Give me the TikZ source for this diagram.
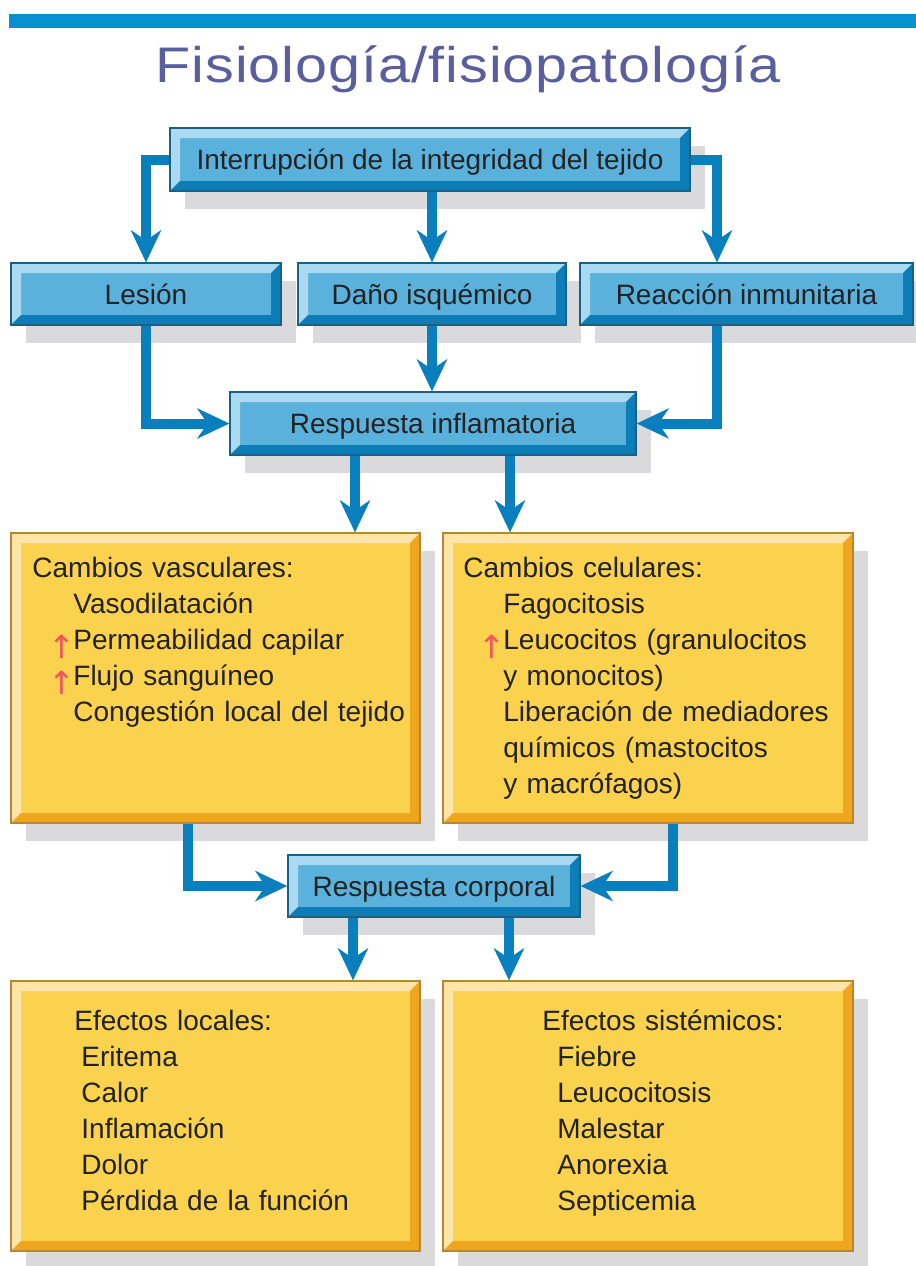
\documentclass[tikz,border=0pt]{standalone}
\usepackage{fontspec}
\setmainfont{Liberation Sans}
\newfontfamily\titlefont[FakeStretch=1.15,LetterSpace=2]{Liberation Sans}
\newfontfamily\symfont{DejaVu Sans}
\usetikzlibrary{arrows.meta,shadows}

\definecolor{barra}{HTML}{0890D0}
\definecolor{titulo}{HTML}{5B5E9E}
\definecolor{azulCara}{HTML}{5AB2DC}
\definecolor{azulClaro}{HTML}{A9DAF1}
\definecolor{azulOscuro}{HTML}{0C7DB6}
\definecolor{azulBorde}{HTML}{1A5F84}
\definecolor{amaCara}{HTML}{FBD24E}
\definecolor{amaClaro}{HTML}{FDE5AA}
\definecolor{amaOscuro}{HTML}{EEA61E}
\definecolor{amaBorde}{HTML}{B8862E}
\definecolor{sombra}{HTML}{DADADC}
\definecolor{flechaAzul}{HTML}{0A7FBD}
\definecolor{flechaRoja}{HTML}{EE5560}
\definecolor{texto}{HTML}{222222}

\newcommand{\flechita}{\llap{\raisebox{-4.5pt}{\color{flechaRoja}\symfont\fontsize{16}{16}\selectfont ↑}\kern-1pt}}

\tikzset{
	bisel/.style 2 args={path picture={
		\fill[#1] (path picture bounding box.south west) -- (path picture bounding box.north west) -- (path picture bounding box.north east)
			-- ([shift={(-5pt,-5pt)}]path picture bounding box.north east) -- ([shift={(5pt,-5pt)}]path picture bounding box.north west)
			-- ([shift={(5pt,5pt)}]path picture bounding box.south west) -- cycle;
		\fill[#2] (path picture bounding box.south west) -- (path picture bounding box.south east) -- (path picture bounding box.north east)
			-- ([shift={(-5pt,-5pt)}]path picture bounding box.north east) -- ([shift={(-5pt,5pt)}]path picture bounding box.south east)
			-- ([shift={(5pt,5pt)}]path picture bounding box.south west) -- cycle;
	}},
	caja/.style={rectangle, inner sep=0pt, line width=0.6pt, text=texto,
		font=\fontsize{14}{18}\selectfont,
		general shadow={fill=sombra, shadow xshift=7.5pt, shadow yshift=-9pt}},
	cajaazul/.style={caja, draw=azulBorde, fill=azulCara, bisel={azulClaro}{azulOscuro},
		minimum height=31.5pt, text height=10pt, text depth=0pt},
	cajaamarilla/.style={caja, draw=amaBorde, fill=amaCara, bisel={amaClaro}{amaOscuro}},
	lista/.style={anchor=base west, inner sep=0pt, align=left, text width=200pt, text=texto,
		font=\fontsize{14}{18}\selectfont},
	flecha/.style={line width=5pt, draw=flechaAzul, -{Stealth[length=16pt,width=15pt,inset=5pt]}}
}

\begin{document}
\begin{tikzpicture}[x=0.5pt,y=-0.5pt]
		\useasboundingbox (0,0) rectangle (916,1266);
		\fill[barra] (9,14) rectangle (916,28);
		\node[anchor=base, inner sep=0pt, text=titulo, font=\titlefont\fontsize{25}{30}\selectfont] (titulo) at (468,82) {Fisiología/fisiopatología};

		% cajas azules
		\node[cajaazul, minimum width=260pt] (int) at (430,159.5) {Interrupción de la integridad del tejido};
		\node[cajaazul, minimum width=135pt, minimum height=31pt] (les) at (146,294) {Lesión};
		\node[cajaazul, minimum width=134pt, minimum height=31pt] (dano) at (432,294) {Daño isquémico};
		\node[cajaazul, minimum width=166.5pt, minimum height=31pt] (rea) at (746.5,294) {Reacción inmunitaria};
		\node[cajaazul, minimum width=203pt] (resp) at (433,423.5) {Respuesta inflamatoria};
		\node[cajaazul, minimum width=146pt, minimum height=31pt] (corp) at (434,886) {Respuesta corporal};

		% cajas amarillas
		\node[cajaamarilla, minimum width=204.5pt, minimum height=145pt] (vas) at (215.5,678) {};
		\node[cajaamarilla, minimum width=205pt, minimum height=145pt] (cel) at (648,678) {};
		\node[cajaamarilla, minimum width=204.5pt, minimum height=135pt] (loc) at (215.5,1116) {};
		\node[cajaamarilla, minimum width=205pt, minimum height=135pt] (sis) at (648,1116) {};

		\node[lista] (vastxt) at (32,577) {Cambios vasculares:\\
			\hspace*{20.5pt}Vasodilatación\\
			\hspace*{20.5pt}\flechita Permeabilidad capilar\\
			\hspace*{20.5pt}\flechita Flujo sanguíneo\\
			\hspace*{20.5pt}Congestión local del tejido};
		\node[lista] (celtxt) at (463,577) {Cambios celulares:\\
			\hspace*{20pt}Fagocitosis\\
			\hspace*{20pt}\flechita Leucocitos (granulocitos\\
			\hspace*{20pt}y monocitos)\\
			\hspace*{20pt}Liberación de mediadores\\
			\hspace*{20pt}químicos (mastocitos\\
			\hspace*{20pt}y macrófagos)};
		\node[lista] (loctxt) at (74,1030) {Efectos locales:\\
			\hspace*{3.5pt}Eritema\\
			\hspace*{3.5pt}Calor\\
			\hspace*{3.5pt}Inflamación\\
			\hspace*{3.5pt}Dolor\\
			\hspace*{3.5pt}Pérdida de la función};
		\node[lista] (sistxt) at (542,1030) {Efectos sistémicos:\\
			\hspace*{7.5pt}Fiebre\\
			\hspace*{7.5pt}Leucocitosis\\
			\hspace*{7.5pt}Malestar\\
			\hspace*{7.5pt}Anorexia\\
			\hspace*{7.5pt}Septicemia};

		% flechas
		\draw[flecha] (int.west) -| (les.north);
		\draw[flecha] (int.south -| dano.north) -- (dano.north);
		\draw[flecha] (int.east) -| ([xshift=-14.75pt]rea.north);
		\draw[flecha] (les.south) |- (resp.west);
		\draw[flecha] (dano.south) -- (dano.south |- resp.north);
		\draw[flecha] ([xshift=-14.75pt]rea.south) |- (resp.east);
		\draw[flecha] ([xshift=-39pt]resp.south) -- ([xshift=-39pt]resp.south |- vas.north);
		\draw[flecha] ([xshift=38.5pt]resp.south) -- ([xshift=38.5pt]resp.south |- cel.north);
		\draw[flecha] ([xshift=-13.75pt]vas.south) |- (corp.west);
		\draw[flecha] ([xshift=12.5pt]cel.south) |- (corp.east);
		\draw[flecha] ([xshift=-40.5pt]corp.south) -- ([xshift=-40.5pt]corp.south |- loc.north);
		\draw[flecha] ([xshift=37.5pt]corp.south) -- ([xshift=37.5pt]corp.south |- sis.north);
		\end{tikzpicture}
\end{document}
